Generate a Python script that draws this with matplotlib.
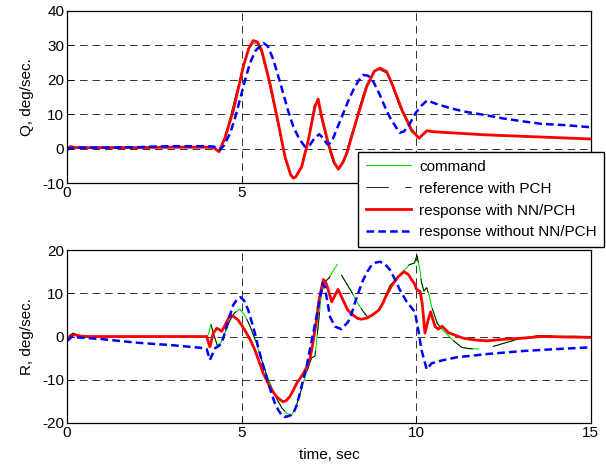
import numpy as np
import matplotlib
matplotlib.use("Agg")
import matplotlib.pyplot as plt

plt.rcParams['font.family'] = ['Liberation Sans', 'DejaVu Sans']
plt.rcParams['font.size'] = 11
plt.rcParams['axes.unicode_minus'] = False
plt.rcParams['lines.scale_dashes'] = False

nan = np.nan

# pitch rate Q, deg/sec
cmd_t_q = [0, 0.1, 0.25, 0.5, 1, 2, 3, 4, 4.2, 4.35, 4.52, 4.76, 5.05, 5.2, 5.32, 5.45, 5.57,
           5.81, 6.05, 6.24, 6.4, 6.48, 6.55, 6.72, 6.91, 7.08, 7.18, 7.28, 7.46, 7.63, 7.76,
           7.9, 8.0, 8.28, 8.56, 8.8, 8.95, 9.15, 9.3, 9.58, 9.86, 10.08, 10.2, 10.31, 10.5,
           11, 12, 13, 14, 15]
cmd_q = [0, 0.6, 0.3, 0.3, 0.3, 0.3, 0.4, 0.4, 0.3, -0.8, 3.5, 12.5, 24.5, 29.0, 30.6, 30.4, 28.0,
         18.0, 6.5, -2.8, -7.8, -8.4, -8.0, -4.8, 3.0, 12.5, 14.0, 9.0, 1.2, -4.2, -5.8,
         -3.8, -1.0, 8.8, 18.3, 22.5, 23.0, 22.0, 18.5, 10.8, 5.0, 3.0, 4.2, 5.1, 4.8,
         4.5, 3.9, 3.5, 3.1, 2.7]
ref_q = cmd_q

red_t_q = [0, 0.1, 0.25, 0.5, 1, 2, 3, 4, 4.2, 4.35, 4.52, 4.76, 5.05, 5.2, 5.33, 5.45, 5.57,
           5.81, 6.05, 6.24, 6.4, 6.48, 6.55, 6.72, 6.91, 7.1, 7.19, 7.29, 7.48, 7.65, 7.77,
           7.9, 8.01, 8.29, 8.58, 8.8, 8.96, 9.15, 9.3, 9.59, 9.87, 10.08, 10.2, 10.31, 10.5,
           11, 12, 13, 14, 15]
red_q = [0, 0.6, 0.3, 0.3, 0.3, 0.3, 0.4, 0.4, 0.3, -0.9, 3.0, 11.0, 23.9, 29.0, 31.4, 31.0, 28.7,
         19.0, 7.4, -2.3, -7.5, -8.6, -8.2, -5.3, 2.5, 12.2, 14.4, 9.3, 1.6, -4.0, -6.0,
         -4.0, -1.4, 8.3, 18.0, 22.5, 23.4, 22.4, 19.0, 11.3, 5.4, 3.0, 4.2, 5.2, 4.9,
         4.6, 4.0, 3.6, 3.2, 2.8]

blue_t_q = [0, 0.1, 0.3, 1, 2, 2.5, 3, 4, 4.2, 4.38, 4.5, 4.67, 4.8, 4.95, 5.1, 5.24, 5.4, 5.62,
            5.75, 5.91, 6.05, 6.19, 6.33, 6.48, 6.65, 6.81, 6.95, 7.05, 7.22, 7.32, 7.45, 7.52,
            7.62, 7.75, 7.91, 8.05, 8.2, 8.35, 8.48, 8.62, 8.77, 8.95, 9.1, 9.25, 9.44, 9.53,
            9.65, 9.8, 9.98, 10.15, 10.31, 10.6, 11, 11.36, 12, 12.47, 13, 13.58, 14.3, 15]
blue_q = [-0.4, 0.2, 0.3, 0.3, 0.4, 0.6, 0.7, 0.7, 0.6, -0.4, 1.0, 4.5, 8.5, 14.2, 20.0, 24.9, 28.5, 30.7,
          29.8, 25.8, 21.0, 16.1, 11.0, 6.4, 2.8, 0.6, 1.0, 2.5, 4.2, 3.2, 1.3, 1.5,
          3.0, 6.3, 10.3, 13.8, 17.1, 19.8, 21.4, 21.2, 19.5, 15.8, 12.2, 9.0, 5.9, 4.6,
          5.0, 7.0, 10.3, 12.5, 14.0, 12.9, 11.7, 10.8, 9.7, 8.8, 8.0, 7.2, 6.8, 6.2]

# yaw rate R, deg/sec
cmd_t_r = [0, 0.08, 0.18, 0.3, 0.5, 1, 2, 3, 4.0, 4.05, 4.12, 4.2, 4.3, 4.4, 4.5, 4.65, 4.8, 4.95,
           5.1, 5.25, 5.4, 5.55, 5.7, 5.85, 6.0, 6.15, 6.3, 6.43, 6.55, 6.7, 6.85, 7.0, 7.1,
           7.18, 7.28, 7.36, 7.5, 7.62, 7.74, nan, 7.86, 8.0, 8.15, 8.3, 8.48, 8.6, 8.75, 8.86,
           9.0, 9.25, 9.5, 9.8, 9.95, 10.02, 10.1, 10.15, 10.22, 10.3, 10.37, 10.44, 10.6,
           10.75, 10.9, 11.1, 11.3, 11.5, 11.78, nan, 12.2, 12.45, 12.7, 13.1, 13.5, 14, 15]
cmd_r = [-0.5, 0.3, 0.8, 0.3, 0, 0, 0, 0, 0, 0.5, 2.8, 0.5, -2.0, -1.5, 0.5, 3.5, 5.5, 6.3,
         4.8, 2.2, -1.0, -4.8, -8.5, -11.5, -14.3, -16.5, -17.8, -18.2, -16.5, -12.5, -8.5, -5.0, -4.5,
         1.5, 9.5, 12.5, 13.5, 15.2, 16.7, nan, 14.2, 12.3, 10.3, 8.0, 5.8, 4.6, 4.8, 5.6,
         7.3, 11.8, 14.0, 16.6, 17.0, 18.8, 15.6, 12.5, 10.5, 11.3, 9.5, 6.9, 3.1,
         1.5, 0.4, -1.2, -2.5, -2.8, -2.9, nan, -2.3, -1.7, -1.1, -0.3, 0.2, 0.1, 0.0]
ref_t_r = cmd_t_r
ref_r = cmd_r

red_t_r = [0, 0.1, 0.2, 0.4, 0.6, 1, 2, 3, 4.0, 4.09, 4.19, 4.29, 4.36, 4.43, 4.55, 4.67, 4.78, 4.9,
           5.02, 5.14, 5.26, 5.38, 5.5, 5.62, 5.72, 5.81, 5.9, 6.0, 6.1, 6.19, 6.28, 6.38, 6.48,
           6.58, 6.68, 6.77, 6.87, 6.96, 7.03, 7.1, 7.15, 7.2, 7.27, 7.34, 7.41, 7.48, 7.58, 7.67,
           7.76, 7.9, 8.04, 8.18, 8.32, 8.43, 8.6, 8.78, 8.93, 9.05, 9.15, 9.3, 9.48, 9.65, 9.78,
           9.87, 9.95, 10.01, 10.11, 10.17, 10.25, 10.34, 10.41, 10.54, 10.63, 10.74, 10.92,
           11.11, 11.35, 11.7, 12.02, 12.3, 12.59, 13.0, 13.59, 14.2, 15]
red_r = [-0.5, 0.1, 0.4, 0.1, 0, 0, 0, 0, 0, -2.4, 0.8, 1.9, 1.6, 1.2, 3.0, 5.0, 4.6, 3.8,
         2.4, 0.8, -1.0, -3.1, -5.8, -8.5, -10.2, -11.6, -12.8, -13.9, -14.6, -15.1, -14.8, -13.9, -12.4,
         -10.8, -9.6, -8.5, -7.0, -5.0, -2.0, 1.5, 4.0, 7.7, 10.5, 13.2, 12.5, 10.8, 8.0, 9.5,
         10.9, 8.5, 6.1, 5.0, 4.2, 4.0, 4.3, 5.2, 6.1, 7.8, 9.6, 11.8, 13.8, 15.0, 14.3,
         13.1, 12.2, 10.9, 10.4, 7.7, 0.8, 3.8, 5.7, 2.3, 1.7, 2.4, 0.9,
         0.3, -0.4, -0.8, -1.0, -0.8, -0.6, -0.4, 0.0, -0.1, -0.2]

blue_t_r = [0, 0.07, 0.13, 0.3, 1, 1.96, 3, 3.81, 4.0, 4.09, 4.17, 4.24, 4.38, 4.47, 4.57, 4.67,
            4.76, 4.87, 4.97, 5.08, 5.19, 5.28, 5.38, 5.47, 5.57, 5.67, 5.76, 5.86, 5.95, 6.05,
            6.15, 6.22, 6.29, 6.38, 6.48, 6.57, 6.67, 6.76, 6.86, 6.95, 7.05, 7.12, 7.2, 7.26,
            7.32, 7.38, 7.43, 7.53, 7.67, 7.86, 8.05, 8.15, 8.24, 8.36, 8.48, 8.6, 8.72, 8.84,
            8.96, 9.1, 9.25, 9.38, 9.53, 9.73, 9.96, 10.06, 10.15, 10.3, 10.44, 10.7, 11.16,
            12.1, 13.06, 14.02, 15]
blue_r = [-1.0, -0.6, 0, -0.2, -0.6, -1.4, -2.0, -2.6, -2.9, -5.4, -4.0, -2.7, -2.0, -0.5, 2.3, 5.0,
          7.3, 8.6, 9.1, 8.2, 6.1, 3.6, 0.8, -2.4, -5.4, -8.2, -10.8, -13.2, -15.4, -17.0,
          -18.2, -18.6, -18.5, -18.3, -17.8, -16.0, -13.1, -10.0, -7.0, -3.2, 0.8, 3.6, 6.9, 9.8,
          12.3, 11.5, 9.2, 4.6, 2.3, 1.7, 3.4, 5.3, 7.7, 10.5, 13.1, 15.0, 16.5, 17.1,
          17.3, 16.8, 15.4, 13.4, 10.8, 8.0, 5.7, 1.5, -3.1, -7.6, -6.2, -5.6, -4.8,
          -4.0, -3.35, -2.9, -2.5]

labels = ['command', 'reference with PCH', 'response with NN/PCH', 'response without NN/PCH']

fig = plt.figure(figsize=(6.06, 4.70), dpi=100)
ax1 = fig.add_axes([0.1106, 0.6106, 0.8644, 0.366])
ax2 = fig.add_axes([0.1106, 0.100, 0.8644, 0.368])

grid_ls = (0, (5.5, 3.5))


def style(ax, ylim, yticks):
    ax.set_xlim(0, 15)
    ax.set_ylim(*ylim)
    ax.set_xticks([0, 5, 10, 15])
    ax.set_yticks(yticks)
    ax.grid(True, color='0.2', linestyle=grid_ls, linewidth=0.7)
    ax.tick_params(direction='in', length=4, width=0.7, pad=2, labelsize=11)
    for s in ax.spines.values():
        s.set_linewidth(0.9)


def draw(ax, ct, c, rt, r, red_t, red_v, bt, b):
    h1, = ax.plot(ct, c, color='#00dd00', lw=0.8)
    h2, = ax.plot(rt, r, color='black', lw=0.6, linestyle=(0, (16, 12)))
    h3, = ax.plot(red_t, red_v, color='#ff0000', lw=2.0)
    h4, = ax.plot(bt, b, color='#0000ff', lw=1.8, linestyle=(0, (5.5, 3)))
    return [h1, h2, h3, h4]


handles = draw(ax1, cmd_t_q, cmd_q, cmd_t_q, ref_q, red_t_q, red_q, blue_t_q, blue_q)
draw(ax2, cmd_t_r, cmd_r, ref_t_r, ref_r, red_t_r, red_r, blue_t_r, blue_r)

style(ax1, (-10, 40), [-10, 0, 10, 20, 30, 40])
style(ax2, (-20, 20), [-20, -10, 0, 10, 20])
# the legend sits over the upper panel's 10 and 15 labels
ax1.set_xticklabels(['0', '5', '', ''])
ax1.set_ylabel('Q, deg/sec.', fontsize=11, labelpad=6)
ax2.set_ylabel('R, deg/sec.', fontsize=11, labelpad=6)
ax2.set_xlabel('time, sec', fontsize=11, labelpad=6)

leg = fig.legend(handles, labels, loc='upper left', bbox_to_anchor=(358 / 606, 1 - 152 / 470),
                 fontsize=11, frameon=True, fancybox=False, shadow=False, framealpha=1,
                 edgecolor='black', borderaxespad=0, borderpad=0.5, labelspacing=0.52,
                 handlelength=2.95, handletextpad=0.55)
leg.get_frame().set_linewidth(1.0)

fig.savefig('out.png', dpi=100)
